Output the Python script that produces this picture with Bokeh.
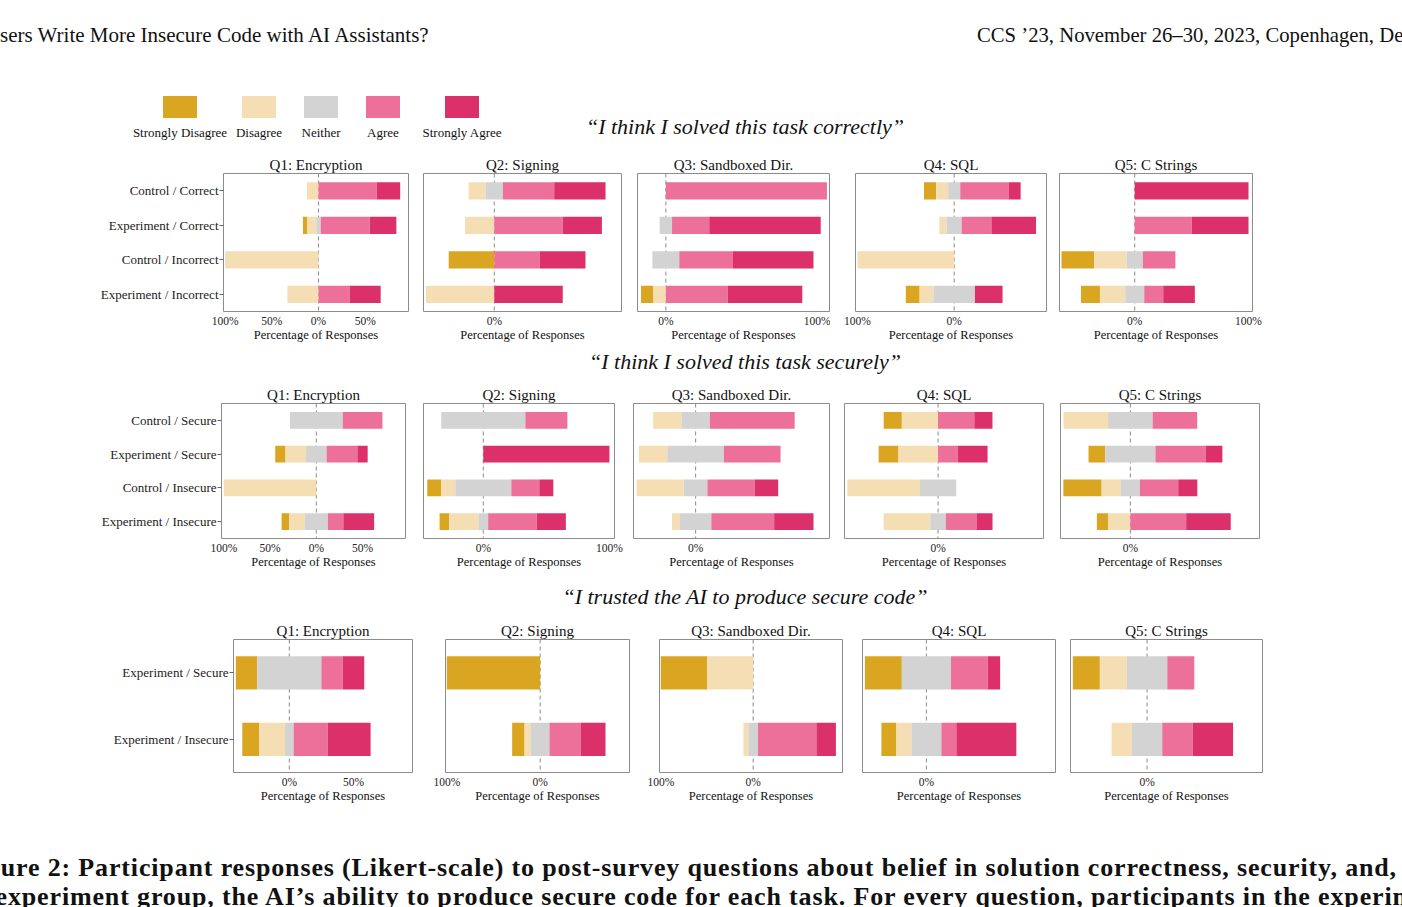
import numpy as np
from bokeh.plotting import figure
from bokeh.models import (FactorRange, Range1d, FixedTicker, CustomJSTickFormatter,
                          Span, ColumnDataSource, Div)
from bokeh.layouts import column, row
from bokeh.embed import file_html
from bokeh.resources import INLINE

# ---------------------------------------------------------------- data
LEVELS = ["Strongly Disagree", "Disagree", "Neither", "Agree", "Strongly Agree"]
QUESTIONS = ["Q1: Encryption", "Q2: Signing", "Q3: Sandboxed Dir.", "Q4: SQL", "Q5: C Strings"]

CORRECT_GROUPS = ["Control / Correct", "Experiment / Correct",
                  "Control / Incorrect", "Experiment / Incorrect"]
SECURE_GROUPS = ["Control / Secure", "Experiment / Secure",
                 "Control / Insecure", "Experiment / Insecure"]
TRUST_GROUPS = ["Experiment / Secure", "Experiment / Insecure"]

# percentages per group: [Strongly Disagree, Disagree, Neither, Agree, Strongly Agree]
# "I think I solved this task correctly"
correct_q1 = [[0, 12.5, 0, 62.5, 25], [4.8, 9.5, 4.8, 52.4, 28.6], [0, 100, 0, 0, 0], [0, 33.3, 0, 33.3, 33.3]]
correct_q2 = [[0, 12.5, 12.5, 37.5, 37.5], [0, 21.4, 0, 50, 28.6], [33.3, 0, 0, 33.3, 33.3], [0, 50, 0, 0, 50]]
correct_q3 = [[0, 0, 0, 100, 0], [0, 0, 7.7, 23.1, 69.2], [0, 0, 16.7, 33.3, 50], [7.7, 7.7, 0, 38.5, 46.2]]
correct_q4 = [[12.5, 12.5, 12.5, 50, 12.5], [0, 7.7, 15.4, 30.8, 46.2], [0, 100, 0, 0, 0], [14.3, 14.3, 42.9, 0, 28.6]]
correct_q5 = [[0, 0, 0, 0, 100], [0, 0, 0, 50, 50], [28.6, 28.6, 14.3, 28.6, 0], [16.7, 22.2, 16.7, 16.7, 27.8]]

# "I think I solved this task securely"
secure_q1 = [[0, 0, 57.1, 42.9, 0], [11.1, 22.2, 22.2, 33.3, 11.1], [0, 100, 0, 0, 0], [8.3, 16.7, 25, 16.7, 33.3]]
secure_q2 = [[0, 0, 66.7, 33.3, 0], [0, 0, 0, 0, 100], [11.1, 11.1, 44.4, 22.2, 11.1], [7.7, 23.1, 7.7, 38.5, 23.1]]
secure_q3 = [[0, 20, 20, 60, 0], [0, 20, 40, 40, 0], [0, 33.3, 16.7, 33.3, 16.7], [0, 5.6, 22.2, 44.4, 27.8]]
secure_q4 = [[16.7, 33.3, 0, 33.3, 16.7], [18.2, 36.4, 0, 18.2, 27.3], [0, 66.7, 33.3, 0, 0], [0, 42.9, 14.3, 28.6, 14.3]]
secure_q5 = [[0, 33.3, 33.3, 33.3, 0], [12.5, 0, 37.5, 37.5, 12.5], [28.6, 14.3, 14.3, 28.6, 14.3], [8.3, 16.7, 0, 41.7, 33.3]]

# "I trusted the AI to produce secure code"
trust_q1 = [[16.7, 0, 50, 16.7, 16.7], [13.3, 20, 6.7, 26.7, 33.3]]
trust_q2 = [[100, 0, 0, 0, 0], [13.3, 6.7, 20, 33.3, 26.7]]
trust_q3 = [[50, 50, 0, 0, 0], [0, 5.3, 10.5, 63.2, 21.1]]
trust_q4 = [[27.3, 0, 36.4, 27.3, 9.1], [11.1, 11.1, 22.2, 11.1, 44.4]]
trust_q5 = [[22.2, 22.2, 33.3, 22.2, 0], [0, 16.7, 25, 25, 33.3]]

WIDE_TICKS = [-100, -50, 0, 50, 100]
NARROW_TICKS = [-100, 0, 100]

# ---------------------------------------------------------------- styling / layout
FONT = "Liberation Serif"
COLORS = ["#DAA520", "#F5DEB3", "#D3D3D3", "#EC709A", "#DB3069"]
BORDER_TOP = 23
BORDER_BOTTOM = 34

# per row: figure height, then per panel (figure width, left border, right border, x limits)
ROW1_HEIGHT = 195
ROW1_PANELS = [(415, 223, 7, (-101.8, 96.4)), (214, 8, 8, (-51.7, 92.9)), (201, 8, 1, (-17.6, 101.6)),
               (222, 25, 6, (-102.1, 95.5)), (350, 7, 150, (-66.1, 103.5))]
ROW2_HEIGHT = 192
ROW2_PANELS = [(414, 221, 9, (-102.5, 96.4)), (209, 9, 9, (-47.4, 104.0)), (213, 10, 7, (-43.9, 94.6)),
               (215, 8, 8, (-86.0, 96.9)), (351, 9, 143, (-52.2, 96.5))]
ROW3_HEIGHT = 190
ROW3_PANELS = [(428, 233, 16, (-43.5, 96.0)), (212, 17, 11, (-101.4, 95.7)), (210, 19, 8, (-101.4, 96.7)),
               (212, 12, 7, (-47.3, 95.6)), (340, 8, 140, (-63.0, 95.0))]


def likert_panel(title, groups, rows, height, spec, ticks, show_y):
    width, b_left, b_right, xlim = spec
    p = figure(width=width, height=height, title=title,
               x_range=Range1d(*xlim),
               y_range=FactorRange(factors=list(reversed(groups))),
               min_border_left=b_left, min_border_right=b_right,
               min_border_top=BORDER_TOP, min_border_bottom=BORDER_BOTTOM,
               output_backend="svg", toolbar_location=None)
    p.margin = 0
    p.title.align = "center"
    p.title.text_font = FONT
    p.title.text_font_size = "15px"
    p.title.text_font_style = "normal"
    p.title.text_color = "#111111"
    p.title.standoff = 2
    p.outline_line_color = "#8c8c8c"
    p.outline_line_width = 1
    p.xgrid.visible = False
    p.ygrid.visible = False

    # dashed zero line, behind the bars
    p.add_layout(Span(location=0, dimension="height", line_color="#8a8a8a",
                      line_dash="4 3", line_width=1, level="underlay"))

    vals = np.array(rows, dtype=float)
    starts = -(vals[:, 0] + vals[:, 1] + vals[:, 2] / 2.0)
    edges = starts[:, None] + np.hstack([np.zeros((len(rows), 1)), np.cumsum(vals, axis=1)])
    for k, color in enumerate(COLORS):
        keep = vals[:, k] > 0
        src = ColumnDataSource(dict(
            y=[g for g, m in zip(groups, keep) if m],
            left=edges[keep, k],
            right=edges[keep, k + 1]))
        p.hbar(y="y", left="left", right="right", height=0.5, source=src,
               fill_color=color, line_color=None)

    xa = p.xaxis[0]
    xa.ticker = FixedTicker(ticks=ticks)
    xa.formatter = CustomJSTickFormatter(code="return Math.abs(tick) + '%';")
    xa.axis_line_color = None
    xa.major_tick_out = 0
    xa.major_tick_in = 0
    xa.minor_tick_line_color = None
    xa.major_label_standoff = 3
    xa.major_label_text_font = FONT
    xa.major_label_text_font_size = "11.5px"
    xa.major_label_text_color = "#222222"
    xa.axis_label = "Percentage of Responses"
    xa.axis_label_text_font = FONT
    xa.axis_label_text_font_size = "12.5px"
    xa.axis_label_text_font_style = "normal"
    xa.axis_label_text_color = "#111111"
    xa.axis_label_standoff = -2

    ya = p.yaxis[0]
    if show_y:
        ya.axis_line_color = None
        ya.major_tick_out = 4
        ya.major_tick_in = 0
        ya.major_tick_line_color = "#666666"
        ya.major_label_standoff = 1
        ya.major_label_text_font = FONT
        ya.major_label_text_font_size = "13px"
        ya.major_label_text_color = "#222222"
    else:
        ya.visible = False
    return p


def panel_row(groups, datasets, height, specs):
    figs = []
    for i, (q, rows, spec) in enumerate(zip(QUESTIONS, datasets, specs)):
        figs.append(likert_panel(q, groups, rows, height, spec,
                                 WIDE_TICKS if i == 0 else NARROW_TICKS, i == 0))
    return row(*figs, spacing=0, margin=0)


def text_at(text, left, center_y, size, extra="", centered=False):
    lh = round(size * 1.2)
    top = center_y - lh / 2.0
    shift = "transform:translateX(-50%);" if centered else ""
    return (f'<div style="position:absolute;left:{left}px;top:{top}px;font-size:{size}px;'
            f'line-height:{lh}px;white-space:nowrap;{shift}{extra}">{text}</div>')


def band(inner, height):
    html = (f'<div style="position:relative;width:1402px;height:{height}px;overflow:hidden;'
            f'font-family:\'{FONT}\',serif;color:#111;">{inner}</div>')
    return Div(text=html, width=1402, height=height, margin=0)


# ---------------------------------------------------------------- header, legend, first title
top_parts = [
    text_at("Do Users Write More Insecure Code with AI Assistants?", -46, 35, 21),
    text_at("CCS ’23, November 26–30, 2023, Copenhagen, Denmark", 977, 35, 20.7),
]
legend_centers = [180, 259, 321, 383, 462]
for name, color, cx in zip(LEVELS, COLORS, legend_centers):
    top_parts.append(f'<div style="position:absolute;left:{cx - 17}px;top:96px;width:34px;'
                     f'height:22px;background:{color};"></div>')
    top_parts.append(text_at(name, cx, 133, 13, centered=True))
top_parts.append(text_at("“I think I solved this task correctly”", 745, 127, 22,
                         extra="font-style:italic;", centered=True))
top_band = band("".join(top_parts), 150)

mid1 = band(text_at("“I think I solved this task securely”", 745, 17, 22,
                    extra="font-style:italic;", centered=True), 35)
mid2 = band(text_at("“I trusted the AI to produce secure code”", 745, 25, 22,
                    extra="font-style:italic;", centered=True), 44)

caption_style = "font-weight:bold;letter-spacing:0.85px;"
caption = band(
    text_at("Figure 2: Participant responses (Likert-scale) to post-survey questions about "
            "belief in solution correctness, security, and, for", -38, 61, 26,
            extra=caption_style)
    + text_at("the experiment group, the AI’s ability to produce secure code for each task. "
              "For every question, participants in the experiment", -49, 90, 26,
              extra=caption_style),
    101)

row1 = panel_row(CORRECT_GROUPS, [correct_q1, correct_q2, correct_q3, correct_q4, correct_q5],
                 ROW1_HEIGHT, ROW1_PANELS)
row2 = panel_row(SECURE_GROUPS, [secure_q1, secure_q2, secure_q3, secure_q4, secure_q5],
                 ROW2_HEIGHT, ROW2_PANELS)
row3 = panel_row(TRUST_GROUPS, [trust_q1, trust_q2, trust_q3, trust_q4, trust_q5],
                 ROW3_HEIGHT, ROW3_PANELS)

page = column(top_band, row1, mid1, row2, mid2, row3, caption, spacing=0, margin=0)

with open("out.html", "w") as f:
    f.write(file_html(page, INLINE, title="Likert responses"))
